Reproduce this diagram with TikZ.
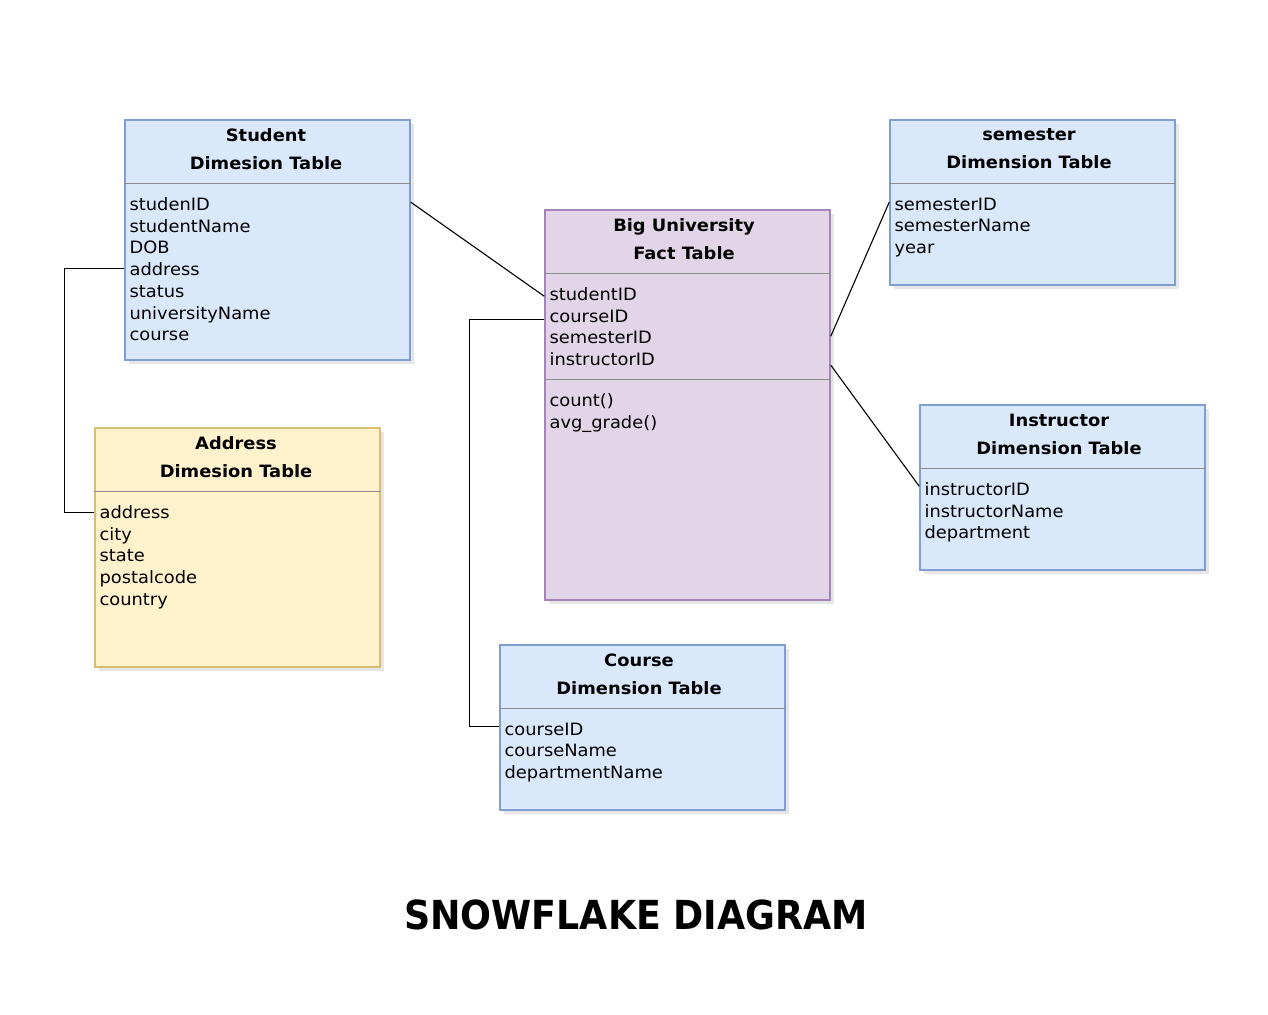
\documentclass[tikz,border=0pt]{standalone}
\usepackage{fontspec}
\setmainfont{DejaVu Sans}[FakeStretch=1.05]
\newfontfamily\titlefont{DejaVu Sans}[FakeStretch=0.91]
\usepackage{tikz}
\usetikzlibrary{positioning, calc, shadows}
\definecolor{dimfill}{RGB}{218, 232, 252}
\definecolor{dimline}{RGB}{128, 158, 208}
\definecolor{factfill}{RGB}{225, 213, 231}
\definecolor{factline}{RGB}{165, 132, 185}
\definecolor{addrfill}{RGB}{255, 242, 204}
\definecolor{addrline}{RGB}{218, 190, 110}

\tikzset{
  tablebox/.style={draw, line width=0.8pt, minimum width=142.5pt, inner sep=0pt,
    drop shadow={shadow xshift=2pt, shadow yshift=-2pt, opacity=0.2, fill=gray}},
  dimtable/.style={tablebox, draw=dimline, fill=dimfill},
  facttable/.style={tablebox, draw=factline, fill=factfill},
  addrtable/.style={tablebox, draw=addrline, fill=addrfill},
  header/.style={align=center, inner sep=0pt, font=\bfseries\fontsize{8.5pt}{14pt}\selectfont},
  rows/.style={align=left, anchor=north west, inner sep=0pt, font=\fontsize{8.5pt}{10.85pt}\selectfont},
  divider/.style={draw=black!45, line width=0.5pt},
  link/.style={draw=black, line width=0.55pt}
}

\begin{document}
\begin{tikzpicture}[x=0.5pt, y=-0.5pt]
    \useasboundingbox (0,0) rectangle (1268,1014);

    % Student dimension
    \node[dimtable, minimum height=120pt] (stu) at (267.5,240) {};
    \node[header] (stuhead) at (266,149) {Student\\Dimesion Table};
    \draw[divider] ($(stu.north west)+(0,64)$) -- ($(stu.north east)+(0,64)$);
    \node[rows] (sturows) at ($(stu.north west)+(5,78)$) {studenID\\studentName\\DOB\\address\\status\\universityName\\course};

    % Address dimension
    \node[addrtable, minimum height=119.5pt] (addr) at (237.5,547.5) {};
    \node[header] (addrhead) at (236,457) {Address\\Dimesion Table};
    \draw[divider] ($(addr.north west)+(0,64)$) -- ($(addr.north east)+(0,64)$);
    \node[rows] (addrrows) at ($(addr.north west)+(5,78)$) {address\\city\\state\\postalcode\\country};

    % Fact table
    \node[facttable, minimum height=195pt] (fact) at (687.5,405) {};
    \node[header] (facthead) at (684,239) {Big University\\Fact Table};
    \draw[divider] ($(fact.north west)+(0,64)$) -- ($(fact.north east)+(0,64)$);
    \node[rows] (factrows) at ($(fact.north west)+(5,78)$) {studentID\\courseID\\semesterID\\instructorID};
    \draw[divider] ($(fact.north west)+(0,170)$) -- ($(fact.north east)+(0,170)$);
    \node[rows] (factfuncs) at ($(fact.north west)+(5,184)$) {count()\\avg\_grade()};

    % Semester dimension
    \node[dimtable, minimum height=82.5pt] (sem) at (1032.5,202.5) {};
    \node[header] (semhead) at (1029,149) {semester\\Dimension Table};
    \draw[divider] ($(sem.north west)+(0,64)$) -- ($(sem.north east)+(0,64)$);
    \node[rows] (semrows) at ($(sem.north west)+(5,78)$) {semesterID\\semesterName\\year};

    % Instructor dimension
    \node[dimtable, minimum height=82.5pt] (ins) at (1062.5,487.5) {};
    \node[header] (inshead) at (1059,434) {Instructor\\Dimension Table};
    \draw[divider] ($(ins.north west)+(0,64)$) -- ($(ins.north east)+(0,64)$);
    \node[rows] (insrows) at ($(ins.north west)+(5,78)$) {instructorID\\instructorName\\department};

    % Course dimension
    \node[dimtable, minimum height=82.5pt] (crs) at (642.5,727.5) {};
    \node[header] (crshead) at (639,674) {Course\\Dimension Table};
    \draw[divider] ($(crs.north west)+(0,64)$) -- ($(crs.north east)+(0,64)$);
    \node[rows] (crsrows) at ($(crs.north west)+(5,78)$) {courseID\\courseName\\departmentName};

    % Links
    \draw[link] ($(stu.north east)+(0,83)$) -- ($(fact.north west)+(0,87)$);
    \draw[link] ($(stu.north west)+(0,149)$) -- ++(-60,0) |- ($(addr.north west)+(0,85)$);
    \draw[link] ($(fact.north west)+(0,110)$) -- ++(-75,0) |- ($(crs.north west)+(0,82)$);
    \draw[link] ($(fact.north east)+(0,127)$) -- ($(sem.north west)+(0,83)$);
    \draw[link] ($(fact.north east)+(0,156)$) -- ($(ins.north west)+(0,82)$);

    % Title
    \node[font=\titlefont\bfseries\fontsize{20pt}{24pt}\selectfont, inner sep=0pt] (title) at (636,915) {SNOWFLAKE DIAGRAM};
\end{tikzpicture}
\end{document}
